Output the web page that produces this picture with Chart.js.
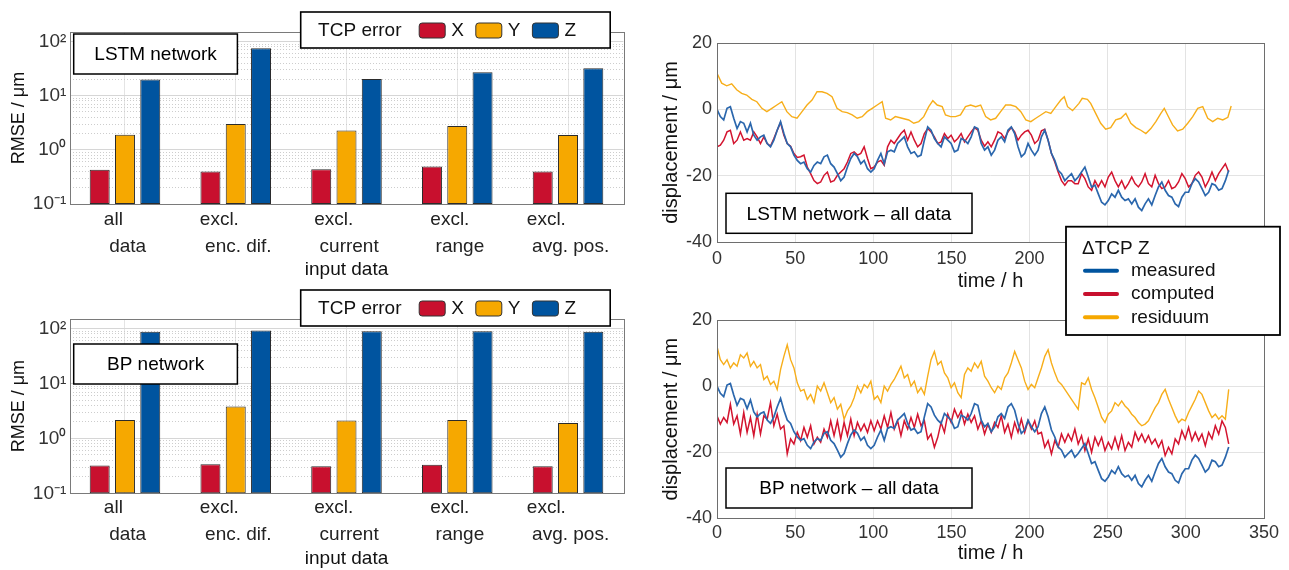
<!DOCTYPE html>
<html>
<head>
<meta charset="utf-8">
<script src="https://cdn.jsdelivr.net/npm/chart.js@4.4.1/dist/chart.umd.min.js"></script>
<style>
  body { margin: 0; background: #fff; width: 1289px; height: 570px; overflow: hidden; position: relative; }
  .panel { position: absolute; }
</style>
</head>
<body>
<div class="panel" style="left:0;top:0"><canvas id="barLstm" width="640" height="285"></canvas></div>
<div class="panel" style="left:0;top:285px"><canvas id="barBp" width="640" height="285"></canvas></div>
<div class="panel" style="left:640px;top:285px"><canvas id="lineBp" width="649" height="285"></canvas></div>
<div class="panel" style="left:640px;top:0;z-index:2"><canvas id="lineLstm" width="649" height="345"></canvas></div>
<script>
// --- bar charts: RMSE per input-data variant ---
const categories = [['all', 'data'], ['excl.', 'enc. dif.'], ['excl.', 'current'], ['excl.', 'range'], ['excl.', 'avg. pos.']];
const lstmX = [0.43, 0.40, 0.44, 0.49, 0.40];
const lstmY = [1.9, 3.0, 2.28, 2.77, 1.88];
const lstmZ = [20, 75, 20.4, 27, 32];
const bpX = [0.32, 0.34, 0.31, 0.33, 0.31];
const bpY = [2.16, 3.83, 2.12, 2.16, 1.9];
const bpZ = [88, 93, 90, 90, 88];
const rmseTicks = [0.1, 1, 10, 100];
const rmseTickText = ['10⁻¹', '10⁰', '10¹', '10²'];

// --- time series (ΔTCP Z), one sample every 2.14 h ---
const sampleStep = 2.14;
const measured = [
  0, -2.2, -3.2, 0.3, 0.8, -2.7, -5.8, -3.7, -4.2, -6.8,
  -4.2, -7.8, -9.3, -8.3, -7.8, -10.3, -11.3, -9.3, -6.3, -3.7,
  -7.3, -10.3, -11.3, -13.8, -15.4, -16.4, -15.9, -17.9, -18.9, -16.9,
  -15.9, -16.4, -14.3, -13.8, -16.4, -17.4, -19.4, -21.5, -20.4, -17.4,
  -14.8, -13.3, -14.3, -16.4, -15.4, -17.9, -18.9, -17.9, -15.4, -13.3,
  -16.4, -12.8, -12.3,
  -12.8, -10.3, -9.3, -8.3, -11.3, -13.3, -12.8, -14.3, -13.8, -9.3,
  -5.3, -6.3, -8.8, -10.3, -11.3, -8.3, -9.3, -10.3, -12.8, -12.3,
  -8.8, -9.3, -10.3, -8.3, -5.3, -5.8, -10.3, -12.3, -11.3, -13.8,
  -12.3, -9.3, -8.3, -9.8, -6.3, -5.3, -7.3, -11.3, -14.3, -13.3,
  -10.3, -12.3, -13.8, -12.3, -8.3, -6.3, -9.3, -13.3, -15.4, -18.4,
  -19.4, -21.5, -20.4, -19.4, -21.5,
  -20.4, -18.9, -17.4, -20.4, -23.4, -22.9, -25.5, -28, -28.8, -27.5,
  -25.5, -26.5, -24.4, -26.5, -27.5, -27, -28.5, -27, -29.5, -30.5,
  -28.5, -27, -28.8, -26, -23.4, -21.9, -24.4, -26, -26.5, -28.5,
  -29.3, -26.5, -25, -25, -22.4, -20.9, -21.9, -23.9, -26, -25,
  -22.4, -22.9, -24.4, -23.9, -21.5, -18.4
];
const computedLstm = [
  -11.3, -10.8, -9.3, -6.8, -6.3, -10.3, -9.3, -6.8, -9.3, -8.8,
  -9.3, -6.8, -8.3, -10.3, -8.3, -10.3, -11.1, -8.8, -6.3, -4,
  -7.8, -10.3, -11.1, -13.3, -14.5, -14.3, -13.8, -17.4, -19.4, -21.5,
  -22.4, -21.9, -19.9, -18.9, -21.9, -21.5, -19.9, -18.9, -17.9, -15.9,
  -13.3, -12.8, -13.8, -13.3, -11.3, -14.8, -17.9, -17.4, -15.9, -15.4,
  -16.9, -11.3, -9.3,
  -10.3, -8.8, -7.3, -6.3, -9.3, -6.8, -9.3, -11.3, -10.3, -7.3,
  -5.8, -6.8, -8.3, -10.3, -9.8, -7.3, -8.8, -7.8, -9.8, -8.8,
  -7.3, -9.8, -8.3, -6.8, -5.5, -6.3, -9.3, -11.1, -9.8, -11.3,
  -9.3, -6.8, -7.3, -8.8, -6.8, -5.5, -6.8, -9.3, -7.8, -6.8,
  -6.3, -7.8, -10.3, -9.3, -6.5, -6, -9.3, -13.3, -15.9, -18.9,
  -21.5, -22.9, -21.5, -21.5, -22.4,
  -22.4, -19.4, -20.9, -23.4, -24.4, -21.5, -23.4, -21.5, -23.4, -20.4,
  -18.9, -21.5, -23.4, -21.5, -23.9, -22.4, -20.4, -22.4, -23.4, -21.9,
  -19.4, -22.4, -23.4, -19.9, -22.4, -23.9, -23.4, -21.5, -23.9, -23.4,
  -21.9, -19.4, -20.9, -23.4, -22.4, -19.9, -18.9, -20.4, -23.4, -21.5,
  -18.9, -21.5, -19.4, -17.9, -16.4, -18.9
];
// LSTM residuum was read at its own time stamps
const residuumLstmHours = [
  0, 3, 6.2, 9.4, 12.6, 15.8, 19, 22.3, 25.5, 28.7,
  31.9, 35.1, 38.3, 41.5, 44.7, 47.9, 51.2, 54.4, 57.6, 60.8,
  64, 67.2, 70.4, 73.6, 76.8, 80.1, 83.3, 86.5, 89.7, 92.9,
  96.1, 99.3, 102.5, 105.7, 107.9, 111.1,
  114.1, 118.4, 122.7, 125.9, 129.1, 132.3, 135.5, 138.1, 140.9, 144.1,
  146.2, 149.4, 152.6, 155.8, 159, 162.3, 165.5, 168.7, 171.9, 175.1,
  178.3, 181.5, 184.7, 187.9, 191.2, 194.4, 197.6, 200.8, 204, 207.2,
  210.4, 213.6, 216.8, 220, 222.2, 224.3, 227.5,
  231.6, 233.7, 237, 239.1, 242.3, 245.5, 248.7, 251.9, 255.1, 258.4,
  261.6, 264.8, 268, 271.2, 274.4, 277.6, 280.8, 284, 286.2, 288.3,
  291.5, 294.7, 298, 301.2, 304.4, 307.6, 310.8, 314, 317.2, 320.4,
  323.6, 326.9, 329
];
const residuumLstm = [
  10.9, 7.9, 7.1, 7.7, 5.9, 4.8, 4.3, 3, 2.3, 0.3,
  -0.7, 0.3, 1.3, 2.3, -0.7, -2.2, -2.7, -0.7, 1.3, 2.8,
  5.3, 5.3, 4.8, 3.8, 0.3, -0.7, -1, -1.7, -2.7, -2.2,
  -0.7, 0.3, 1.3, 2.3, -2.7, -3.2,
  -2.2, -2.7, -3.2, -4.2, -3.7, -2.2, 0.8, 2.6, 1.3, 0.8,
  -1.7, -2.2, -2.2, -1.7, 0.8, 1.3, 0.8, 1.3, -2.2, -3.2,
  -2.7, -0.7, 1.3, 1.3, 0.8, -0.7, -3.2, -3.7, -2.7, -1.7,
  -0.7, -1.2, 0.8, 2.8, 3.8, 0.8, -0.4,
  1.8, 3.3, 3, 1.8, -1.2, -4.2, -6, -5.5, -3.2, -2.7,
  -1.2, -4.2, -5.5, -6.3, -7.3, -5.8, -3.7, -1.2, 0.3, -1.7,
  -4.7, -6.5, -6, -4.2, -2.2, 0.3, 0.8, -2.7, -3.7, -2.7,
  -3.2, -2.4, 1
];
const computedBp = [
  -9.0, -11.5, -9.5, -11, -5.5, -11.5, -9, -14.5, -8, -14,
  -9.5, -15, -8.5, -14.5, -9, -10, -5, -12, -8.5, -13,
  -12, -20.5, -16, -17.5, -14, -16.5, -12.5, -15.5, -12, -17.5,
  -15.5, -17, -13, -15.5, -10.5, -15, -10.5, -16, -11, -15,
  -10, -15, -11, -13.5, -11.5, -14, -10.5, -13.5, -10.5, -13,
  -9, -12.5, -8, -13, -10.5, -15, -10.5, -13, -9.5, -12.5,
  -8.5, -12, -10.5, -16, -14.5, -18.5, -15.5, -11, -14, -8.5,
  -11, -7, -9.5, -7.5, -11.5, -8.5, -11, -9, -13, -10.5,
  -14.5, -11.5, -14, -11, -12.5, -9, -14, -11.5, -15.5, -11,
  -14, -10, -14, -10.5, -13, -10.5, -14.5, -14, -18.5, -16.5,
  -20.5, -16.5, -18.5, -14.5, -17, -14.5, -16.5, -13, -17.5, -15,
  -19.5, -16, -20, -15.5, -18, -15.5, -19.5, -17, -19, -15.5,
  -19, -15, -19.5, -17, -18.5, -14, -16.5, -14.5, -17, -15,
  -17.5, -16, -18.5, -16.5, -21, -18.5, -20.5, -16, -17.5, -13.5,
  -16, -12.5, -16.5, -14, -16.5, -14.5, -18, -14, -16, -12,
  -14.5, -10.5, -12.5, -17.5
];
const residuumBp = [
  12, 8, 6.5, 8, 5.5, 7, 6, 9.5, 8.5, 10,
  6, 7.5, 5.5, 6.5, 2, 3, 0.5, 1.5, -1, 5,
  9, 12.5, 8, 5.5, 1, -1.5, -1, -4, -2.5, -5,
  0, -1.5, 1, -2, -5, -3.5, -7, -5.5, -10, -7.5,
  -6, -3.5, 0, -2, 0.5, -0.5, 1.5, -4, -3, -5,
  0, -1.5, 0.5, 2, 4, 6, 2.5, 3.5, 0, 1.5,
  -2, -0.5, -2.5, 3, 8, 10.5, 6.5, 7.5, 4, 2.5,
  -0.5, 1, -2, -3.5, 3.5, 5.5, 4.5, 7, 5.5, 7.5,
  3, 1.5, -0.5, -2, 0, -1, 2.5, 4, 7, 10.5,
  8, 5.5, 1.5, -1, 0.5, -0.5, 2.5, 5.5, 9, 11,
  7, 4, 1.5, 0.5, -1, -2.5, -4, -5.5, -7, 1,
  0.5, 2.5, -1, -3.5, -6.5, -9.5, -11, -8.5, -7.5, -5,
  -6, -4.5, -6, -7, -8.5, -9.5, -11, -12, -11.5, -10.5,
  -8.5, -6.5, -5, -2.5, -1, -4, -6.5, -9, -11, -10,
  -10.5, -8, -6, -4, -1.5, -2.5, -5, -7.5, -9.5, -8.5,
  -10, -9, -10, -1
];
const hours = measured.map((_, k) => +(k * sampleStep).toFixed(2));

const red = '#c8102e', orange = '#f6a800', blue = '#00549f';
const font = '"Liberation Sans", Arial, sans-serif';
Chart.defaults.font.family = font;

// frame round the plot area (MATLAB "box on")
const framePlugin = {
  id: 'frame',
  afterDatasetsDraw(chart, args, o) {
    const a = chart.chartArea, ctx = chart.ctx;
    ctx.save();
    ctx.strokeStyle = o.color || '#7a7a7a';
    ctx.lineWidth = 1;
    ctx.strokeRect(Math.round(a.left) + 0.5, Math.round(a.top) + 0.5, Math.round(a.right - a.left), Math.round(a.bottom - a.top));
    ctx.restore();
  }
};

// white box with a caption
const textBoxPlugin = {
  id: 'textBox',
  afterDraw(chart, args, o) {
    const ctx = chart.ctx;
    ctx.save();
    ctx.fillStyle = '#fff';
    ctx.fillRect(o.x, o.y, o.w, o.h);
    ctx.strokeStyle = '#000';
    ctx.lineWidth = 1.5;
    ctx.strokeRect(o.x, o.y, o.w, o.h);
    ctx.fillStyle = '#000';
    ctx.font = o.font;
    ctx.textAlign = 'center';
    ctx.textBaseline = 'middle';
    ctx.fillText(o.text, o.x + o.w / 2, o.y + o.h / 2 + 1);
    ctx.restore();
  }
};

// inline legend "TCP error  [X] [Y] [Z]"
const barLegendPlugin = {
  id: 'barLegend',
  afterDraw(chart, args, o) {
    const ctx = chart.ctx;
    ctx.save();
    ctx.fillStyle = '#fff';
    ctx.fillRect(o.x, o.y, o.w, o.h);
    ctx.strokeStyle = '#000';
    ctx.lineWidth = 1.6;
    ctx.strokeRect(o.x, o.y, o.w, o.h);
    ctx.font = '19px ' + font;
    ctx.textBaseline = 'middle';
    ctx.fillStyle = '#111';
    const cy = o.y + o.h / 2 + 1;
    ctx.fillText('TCP error', o.x + 17.4, cy);
    let x = o.x + 118.5;
    chart.data.datasets.forEach(ds => {
      ctx.beginPath();
      ctx.roundRect(x, cy - 8, 26, 15, 3);
      ctx.fillStyle = ds.backgroundColor;
      ctx.fill();
      ctx.lineWidth = 1;
      ctx.strokeStyle = '#333';
      ctx.stroke();
      ctx.fillStyle = '#111';
      ctx.fillText(ds.label, x + 32, cy);
      x += 56.6;
    });
    ctx.restore();
  }
};

// two-line category labels, left aligned, second line indented by a space
const catLabelPlugin = {
  id: 'catLabels',
  afterDraw(chart, args, o) {
    const ctx = chart.ctx, xs = chart.scales.x;
    ctx.save();
    ctx.font = '19px ' + font;
    ctx.fillStyle = '#222';
    ctx.textBaseline = 'middle';
    ctx.textAlign = 'left';
    chart.data.labels.forEach((lab, i) => {
      const cx = xs.getPixelForValue(i);
      const l2 = ' ' + lab[1];
      const w = Math.max(ctx.measureText(lab[0]).width, ctx.measureText(l2).width);
      ctx.fillText(lab[0], cx - w / 2, o.y1);
      ctx.fillText(l2, cx - w / 2, o.y2);
    });
    ctx.restore();
  }
};

// legend box of the line charts
const lineLegendPlugin = {
  id: 'lineLegend',
  afterDraw(chart, args, o) {
    if (!o.show) return;
    const ctx = chart.ctx;
    ctx.save();
    ctx.fillStyle = '#fff';
    ctx.fillRect(o.x, o.y, o.w, o.h);
    ctx.strokeStyle = '#000';
    ctx.lineWidth = 1.8;
    ctx.strokeRect(o.x, o.y, o.w, o.h);
    ctx.font = '19px ' + font;
    ctx.textBaseline = 'middle';
    ctx.fillStyle = '#111';
    ctx.fillText(o.title, o.x + 16, o.y + 22);
    chart.data.datasets.forEach((ds, i) => {
      const y = o.y + 44 + i * 23.3;
      ctx.beginPath();
      ctx.moveTo(o.x + 19, y);
      ctx.lineTo(o.x + 51, y);
      ctx.strokeStyle = ds.legendColor;
      ctx.lineWidth = 4;
      ctx.lineCap = 'round';
      ctx.stroke();
      ctx.fillText(ds.label, o.x + 65, y);
    });
    ctx.restore();
  }
};

function minorLogTicks() {
  const t = [];
  [0.1, 1, 10].forEach(d => { for (let m = 1; m <= 9; m++) t.push({ value: +(m * d).toPrecision(3) }); });
  t.push({ value: 100 });
  return t;
}

function barChart(id, xs, ys, zs, tag, g) {
  return new Chart(document.getElementById(id), {
    type: 'bar',
    data: {
      labels: categories,
      datasets: [
        { label: 'X', data: xs, backgroundColor: red },
        { label: 'Y', data: ys, backgroundColor: orange },
        { label: 'Z', data: zs, backgroundColor: blue }
      ]
    },
    options: {
      responsive: false,
      animation: false,
      layout: { padding: { left: 0, right: 16.6, top: g.top, bottom: 0 } },
      datasets: { bar: { barPercentage: 0.79, categoryPercentage: 0.685, borderWidth: 1, borderColor: '#2b2b2b', borderSkipped: false } },
      scales: {
        x: {
          grid: { offset: false, color: '#e4e4e4', drawTicks: false },
          border: { display: false },
          ticks: { display: false },
          title: { display: true, text: 'input data', color: '#111', font: { size: 19 }, padding: { top: 0, bottom: g.titlePad } },
          afterFit: s => { s.height = g.xh; }
        },
        y: {
          type: 'logarithmic',
          min: 0.1,
          max: 150,
          afterBuildTicks: s => { s.ticks = minorLogTicks(); },
          ticks: {
            autoSkip: false,
            padding: 3.3,
            color: '#333',
            font: { size: 19 },
            callback: v => { const i = rmseTicks.indexOf(v); return i < 0 ? '' : rmseTickText[i]; }
          },
          grid: { drawTicks: false, color: c => rmseTicks.includes(c.tick.value) ? '#d6d6d6' : '#cdcdcd' },
          border: { display: false, dash: c => (c.tick && !rmseTicks.includes(c.tick.value)) ? [1, 2] : [] },
          title: { display: true, text: 'RMSE / μm', color: '#111', font: { size: 18 }, padding: { top: 7.8, bottom: 0 } },
          afterFit: s => { s.width = 69.6; }
        }
      },
      plugins: {
        legend: { display: false },
        tooltip: { enabled: false },
        frame: { color: '#7a7a7a' },
        catLabels: { y1: g.y1, y2: g.y2 },
        textBox: { x: 73.7, y: g.boxY, w: 163.7, h: 40, text: tag, font: '19px ' + font },
        barLegend: { x: 300.7, y: g.legY, w: 309.5, h: 36 }
      }
    },
    plugins: [framePlugin, catLabelPlugin, textBoxPlugin, barLegendPlugin]
  });
}

barChart('barLstm', lstmX, lstmY, lstmZ, 'LSTM network', { top: 32, xh: 81, titlePad: 4, y1: 220, y2: 247, boxY: 34, legY: 12 });
barChart('barBp', bpX, bpY, bpZ, 'BP network', { top: 34, xh: 76.7, titlePad: 0, y1: 223, y2: 250, boxY: 59, legY: 5 });

const pts = (ts, vs) => vs.map((v, i) => ({ x: ts[i], y: v }));

function lineChart(id, comp, res, resHours, tag, g) {
  return new Chart(document.getElementById(id), {
    type: 'line',
    data: {
      datasets: [
        { label: 'measured', data: pts(hours, measured), borderColor: '#2b67ad', legendColor: blue, borderWidth: 1.7 },
        { label: 'computed', data: pts(hours, comp), borderColor: '#d3142f', legendColor: red, borderWidth: 1.5 },
        { label: 'residuum', data: pts(resHours, res), borderColor: '#f7ae1a', legendColor: orange, borderWidth: 1.4 }
      ]
    },
    options: {
      responsive: false,
      animation: false,
      elements: { point: { radius: 0 }, line: { tension: 0 } },
      layout: { padding: { left: 0, right: 25, top: g.top, bottom: g.bottom } },
      scales: {
        x: {
          type: 'linear',
          min: 0,
          max: 350,
          ticks: { stepSize: 50, color: '#333', font: { size: 18 }, padding: g.tickPad },
          grid: { color: '#e3e3e3', drawTicks: false },
          border: { display: false },
          title: { display: true, text: 'time / h', color: '#111', font: { size: 20 }, padding: { top: 0, bottom: g.titlePad } },
          afterFit: s => { s.height = g.xh; }
        },
        y: {
          min: -40,
          max: 20,
          ticks: { stepSize: 20, color: '#333', font: { size: 18 }, padding: 5 },
          grid: { color: '#e3e3e3', drawTicks: false },
          border: { display: false },
          title: { display: true, text: 'displacement / μm', color: '#111', font: { size: 20 }, padding: { top: 19, bottom: 0 } },
          afterFit: s => { s.width = 77; }
        }
      },
      plugins: {
        legend: { display: false },
        tooltip: { enabled: false },
        frame: { color: '#6e6e6e' },
        textBox: { x: 86, y: g.boxY, w: 246, h: 40, text: tag, font: '19px ' + font },
        lineLegend: { show: g.legend, x: 426, y: 226.7, w: 214, h: 108.3, title: 'ΔTCP Z' }
      }
    },
    plugins: [framePlugin, textBoxPlugin, lineLegendPlugin]
  });
}

lineChart('lineBp', computedBp, residuumBp, hours, 'BP network – all data',
  { top: 35, bottom: 0, xh: 51.7, tickPad: 4, titlePad: 5, boxY: 183, legend: false });
lineChart('lineLstm', computedLstm, residuumLstm, residuumLstmHours, 'LSTM network – all data',
  { top: 43, bottom: 50, xh: 53, tickPad: 6, titlePad: 2, boxY: 193.3, legend: true });
</script>
</body>
</html>
